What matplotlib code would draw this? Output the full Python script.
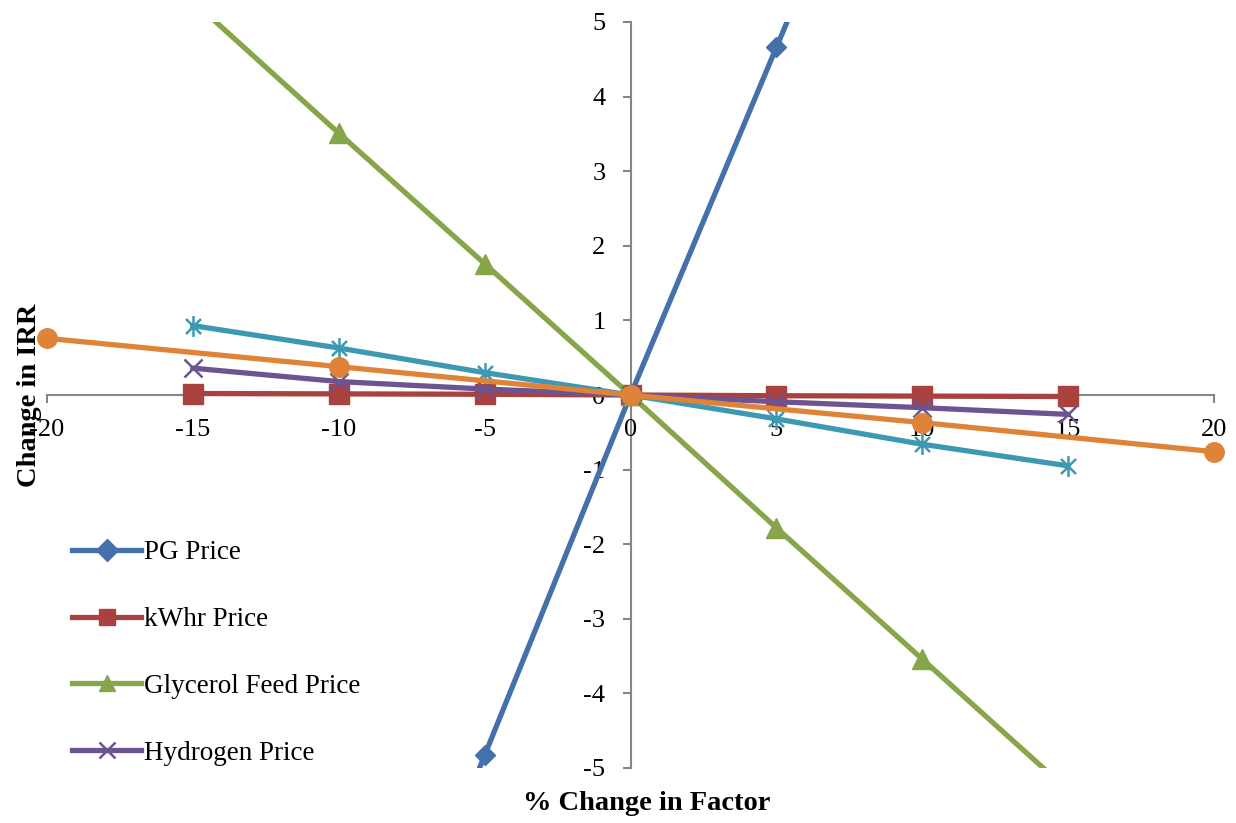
import matplotlib
matplotlib.use("Agg")
import matplotlib.pyplot as plt
from matplotlib.path import Path

plt.rcParams['axes.unicode_minus'] = False
plt.rcParams['font.family'] = ['Liberation Serif', 'DejaVu Serif']

# Sensitivity data: % change in factor vs change in IRR
pct = [-15, -10, -5, 0, 5, 10, 15]
pg_price = [-14.5, -9.7, -4.83, 0, 4.66, 9.3, 14.0]
kwhr_price = [0.02, 0.015, 0.01, 0, -0.01, -0.015, -0.02]
glycerol_price = [5.28, 3.51, 1.76, 0, -1.78, -3.54, -5.3]
hydrogen_price = [0.36, 0.18, 0.08, 0, -0.09, -0.17, -0.26]
series5 = [0.93, 0.63, 0.30, 0, -0.32, -0.66, -0.95]
pct_wide = [-20, -10, 0, 10, 20]
series6 = [0.76, 0.38, 0, -0.37, -0.76]

labels = ["PG Price", "kWhr Price", "Glycerol Feed Price", "Hydrogen Price"]
x_ticks = [-20, -15, -10, -5, 0, 5, 10, 15, 20]
y_ticks = [-5, -4, -3, -2, -1, 0, 1, 2, 3, 4, 5]

colors = {
    "blue": "#4471AA",
    "red": "#A9423F",
    "green": "#87A64A",
    "purple": "#6C5392",
    "cyan": "#3D98B2",
    "orange": "#DE8337",
}

# Excel-style asterisk marker: vertical stroke plus a diagonal cross
star_path = Path(
    [(0, -1), (0, 1), (-0.72, -0.72), (0.72, 0.72), (-0.72, 0.72), (0.72, -0.72)],
    [Path.MOVETO, Path.LINETO, Path.MOVETO, Path.LINETO, Path.MOVETO, Path.LINETO],
)

fig = plt.figure(figsize=(12.36, 8.23), dpi=100)
ax = fig.add_axes([47 / 1236, 1 - 768 / 823, (1214 - 47) / 1236, (768 - 22) / 823])

lw = 3.8
l1, = ax.plot(pct, pg_price, color=colors["blue"], lw=lw, marker="D", ms=10.5, zorder=3)
l2, = ax.plot(pct, kwhr_price, color=colors["red"], lw=lw, marker="s", ms=14, zorder=4)
l3, = ax.plot(pct, glycerol_price, color=colors["green"], lw=lw, marker="^", ms=14, zorder=5)
l4, = ax.plot(pct, hydrogen_price, color=colors["purple"], lw=lw, marker="x", ms=13, mew=1.8, zorder=6)
ax.plot(pct, series5, color=colors["cyan"], lw=lw, marker=star_path, ms=15, mew=1.8,
        mfc="none", zorder=7)
ax.plot(pct_wide, series6, color=colors["orange"], lw=lw, marker="o", ms=14, zorder=8,
        clip_on=False)

ax.set_xlim(-20, 20)
ax.set_ylim(-5, 5)

for side in ("top", "right"):
    ax.spines[side].set_visible(False)
ax.spines["left"].set_position(("data", 0))
ax.spines["bottom"].set_position(("data", 0))
for side in ("left", "bottom"):
    ax.spines[side].set_color("#868686")
    ax.spines[side].set_linewidth(1.5)
    ax.spines[side].set_zorder(1)

ax.set_xticks(x_ticks)
ax.set_yticks(y_ticks)
ax.set_xticklabels([str(v) for v in x_ticks])
ax.set_yticklabels([str(v) for v in y_ticks])
ax.tick_params(axis="x", direction="out", length=6, width=1.5, color="#868686",
               labelsize=19, pad=11)
ax.tick_params(axis="y", direction="out", length=6, width=1.5, color="#868686",
               labelsize=19, pad=12)

leg = ax.legend([l1, l2, l3, l4], labels, loc="upper left",
                bbox_to_anchor=(72 / 1236, 1 - 540 / 823), bbox_transform=fig.transFigure,
                frameon=False, fontsize=19.5, handlelength=2.55, handletextpad=0.1,
                labelspacing=1.55, numpoints=1, borderaxespad=0, borderpad=0)
for h in leg.legend_handles:
    h.set_markersize(11)

fig.text(30 / 1236, 1 - 395 / 823, "Change in IRR", rotation=90, ha="center", va="center",
         fontsize=20.5, fontweight="bold")
fig.text(647 / 1236, 1 - 804 / 823, "% Change in Factor", ha="center", va="center",
         fontsize=20.5, fontweight="bold")

fig.savefig("out.png", dpi=100)
